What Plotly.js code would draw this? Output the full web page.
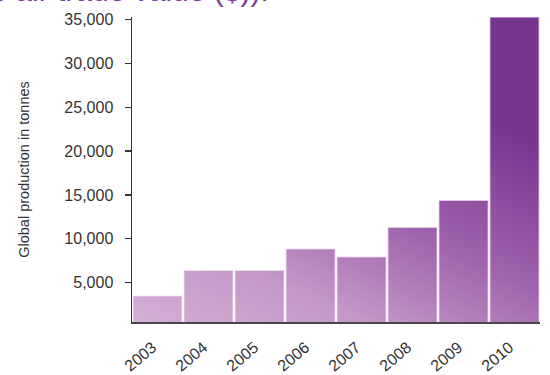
<!DOCTYPE html>
<html>
<head>
<meta charset="utf-8">
<script src="https://cdn.plot.ly/plotly-3.0.1.min.js"></script>
<style>html,body{margin:0;padding:0;background:#fff;}#chart{width:550px;height:375px;}</style>
</head>
<body>
<div id="chart"></div>
<script>
const years = ['2003','2004','2005','2006','2007','2008','2009','2010'];
const production = [3500, 6400, 6400, 8850, 7950, 11300, 14400, 35300];
const yTickVals = [5000, 10000, 15000, 20000, 25000, 30000, 35000];
const yTickText = ['5,000','10,000','15,000','20,000','25,000','30,000','35,000'];
const titleText = 'Fair trade value ($)).';
const yTitle = 'Global production in tonnes';

const font = {family: 'Liberation Sans, Arial, sans-serif', size: 16, color: '#333'};

const data = [{
  type: 'bar',
  x: years,
  y: production,
  marker: {color: '#b584bd', line: {color: 'rgba(255,255,255,0.55)', width: 1.5}},
  hoverinfo: 'x+y',
  cliponaxis: true
}];

const layout = {
  width: 550, height: 375,
  margin: {l: 132, r: 10, t: 17, b: 53, autoexpand: false},
  paper_bgcolor: '#fff', plot_bgcolor: '#fff',
  font: font,
  showlegend: false,
  bargap: 0.03,
  annotations: [{
    text: titleText,
    font: {family: 'Liberation Sans, Arial, sans-serif', size: 30, color: '#7b3a9b'},
    xref: 'paper', x: -0.335, xanchor: 'left',
    yref: 'paper', y: 1, yanchor: 'bottom', yshift: 8,
    showarrow: false
  }],
  xaxis: {
    type: 'category',
    showgrid: false, zeroline: false,
    showline: true, linecolor: '#4d434f', linewidth: 2,
    ticks: '', tickangle: -40,
    ticklabelstandoff: 8,
    ticklabelshift: -5,
    tickfont: font,
    fixedrange: true
  },
  yaxis: {
    range: [500, 35300],
    showgrid: false, zeroline: false,
    showline: true, linecolor: '#333', linewidth: 1.5,
    ticks: 'outside', ticklen: 6, tickwidth: 1.5, tickcolor: '#333',
    tickvals: yTickVals, ticktext: yTickText,
    ticklabelstandoff: 8,
    tickfont: font,
    title: {text: yTitle, font: {family: 'Liberation Sans, Arial, sans-serif', size: 14.5, color: '#333'}, standoff: 31},
    automargin: false,
    fixedrange: true
  },
  yaxis2: {
    overlaying: 'y', matches: 'y', range: [500, 35300],
    showgrid: false, zeroline: false, showline: false,
    ticks: 'inside', ticklen: 6, tickwidth: 1.5, tickcolor: '#333',
    tickvals: yTickVals, showticklabels: false,
    fixedrange: true
  }
};

Plotly.newPlot('chart', data, layout, {displayModeBar: false, staticPlot: true}).then(function (gd) {
  const svg = gd.querySelector('svg.main-svg');
  const ns = 'http://www.w3.org/2000/svg';
  let defs = svg.querySelector('defs');
  if (!defs) { defs = document.createElementNS(ns, 'defs'); svg.insertBefore(defs, svg.firstChild); }
  const fa = gd._fullLayout.xaxis, ya = gd._fullLayout.yaxis;
  const grad = document.createElementNS(ns, 'linearGradient');
  grad.setAttribute('id', 'barGrad');
  grad.setAttribute('gradientUnits', 'userSpaceOnUse');
  grad.setAttribute('x1', 0); grad.setAttribute('y1', ya._length);
  grad.setAttribute('x2', fa._length * 0.35); grad.setAttribute('y2', 0);
  [['0', '#d3afd4'], ['0.3', '#c296c7'], ['0.6', '#a063ac'], ['1', '#77358f']].forEach(function (s) {
    const st = document.createElementNS(ns, 'stop');
    st.setAttribute('offset', s[0]); st.setAttribute('stop-color', s[1]);
    grad.appendChild(st);
  });
  defs.appendChild(grad);
  gd.querySelectorAll('.barlayer .point path').forEach(function (p) {
    p.style.fill = 'url(#barGrad)';
  });
});
</script>
</body>
</html>
